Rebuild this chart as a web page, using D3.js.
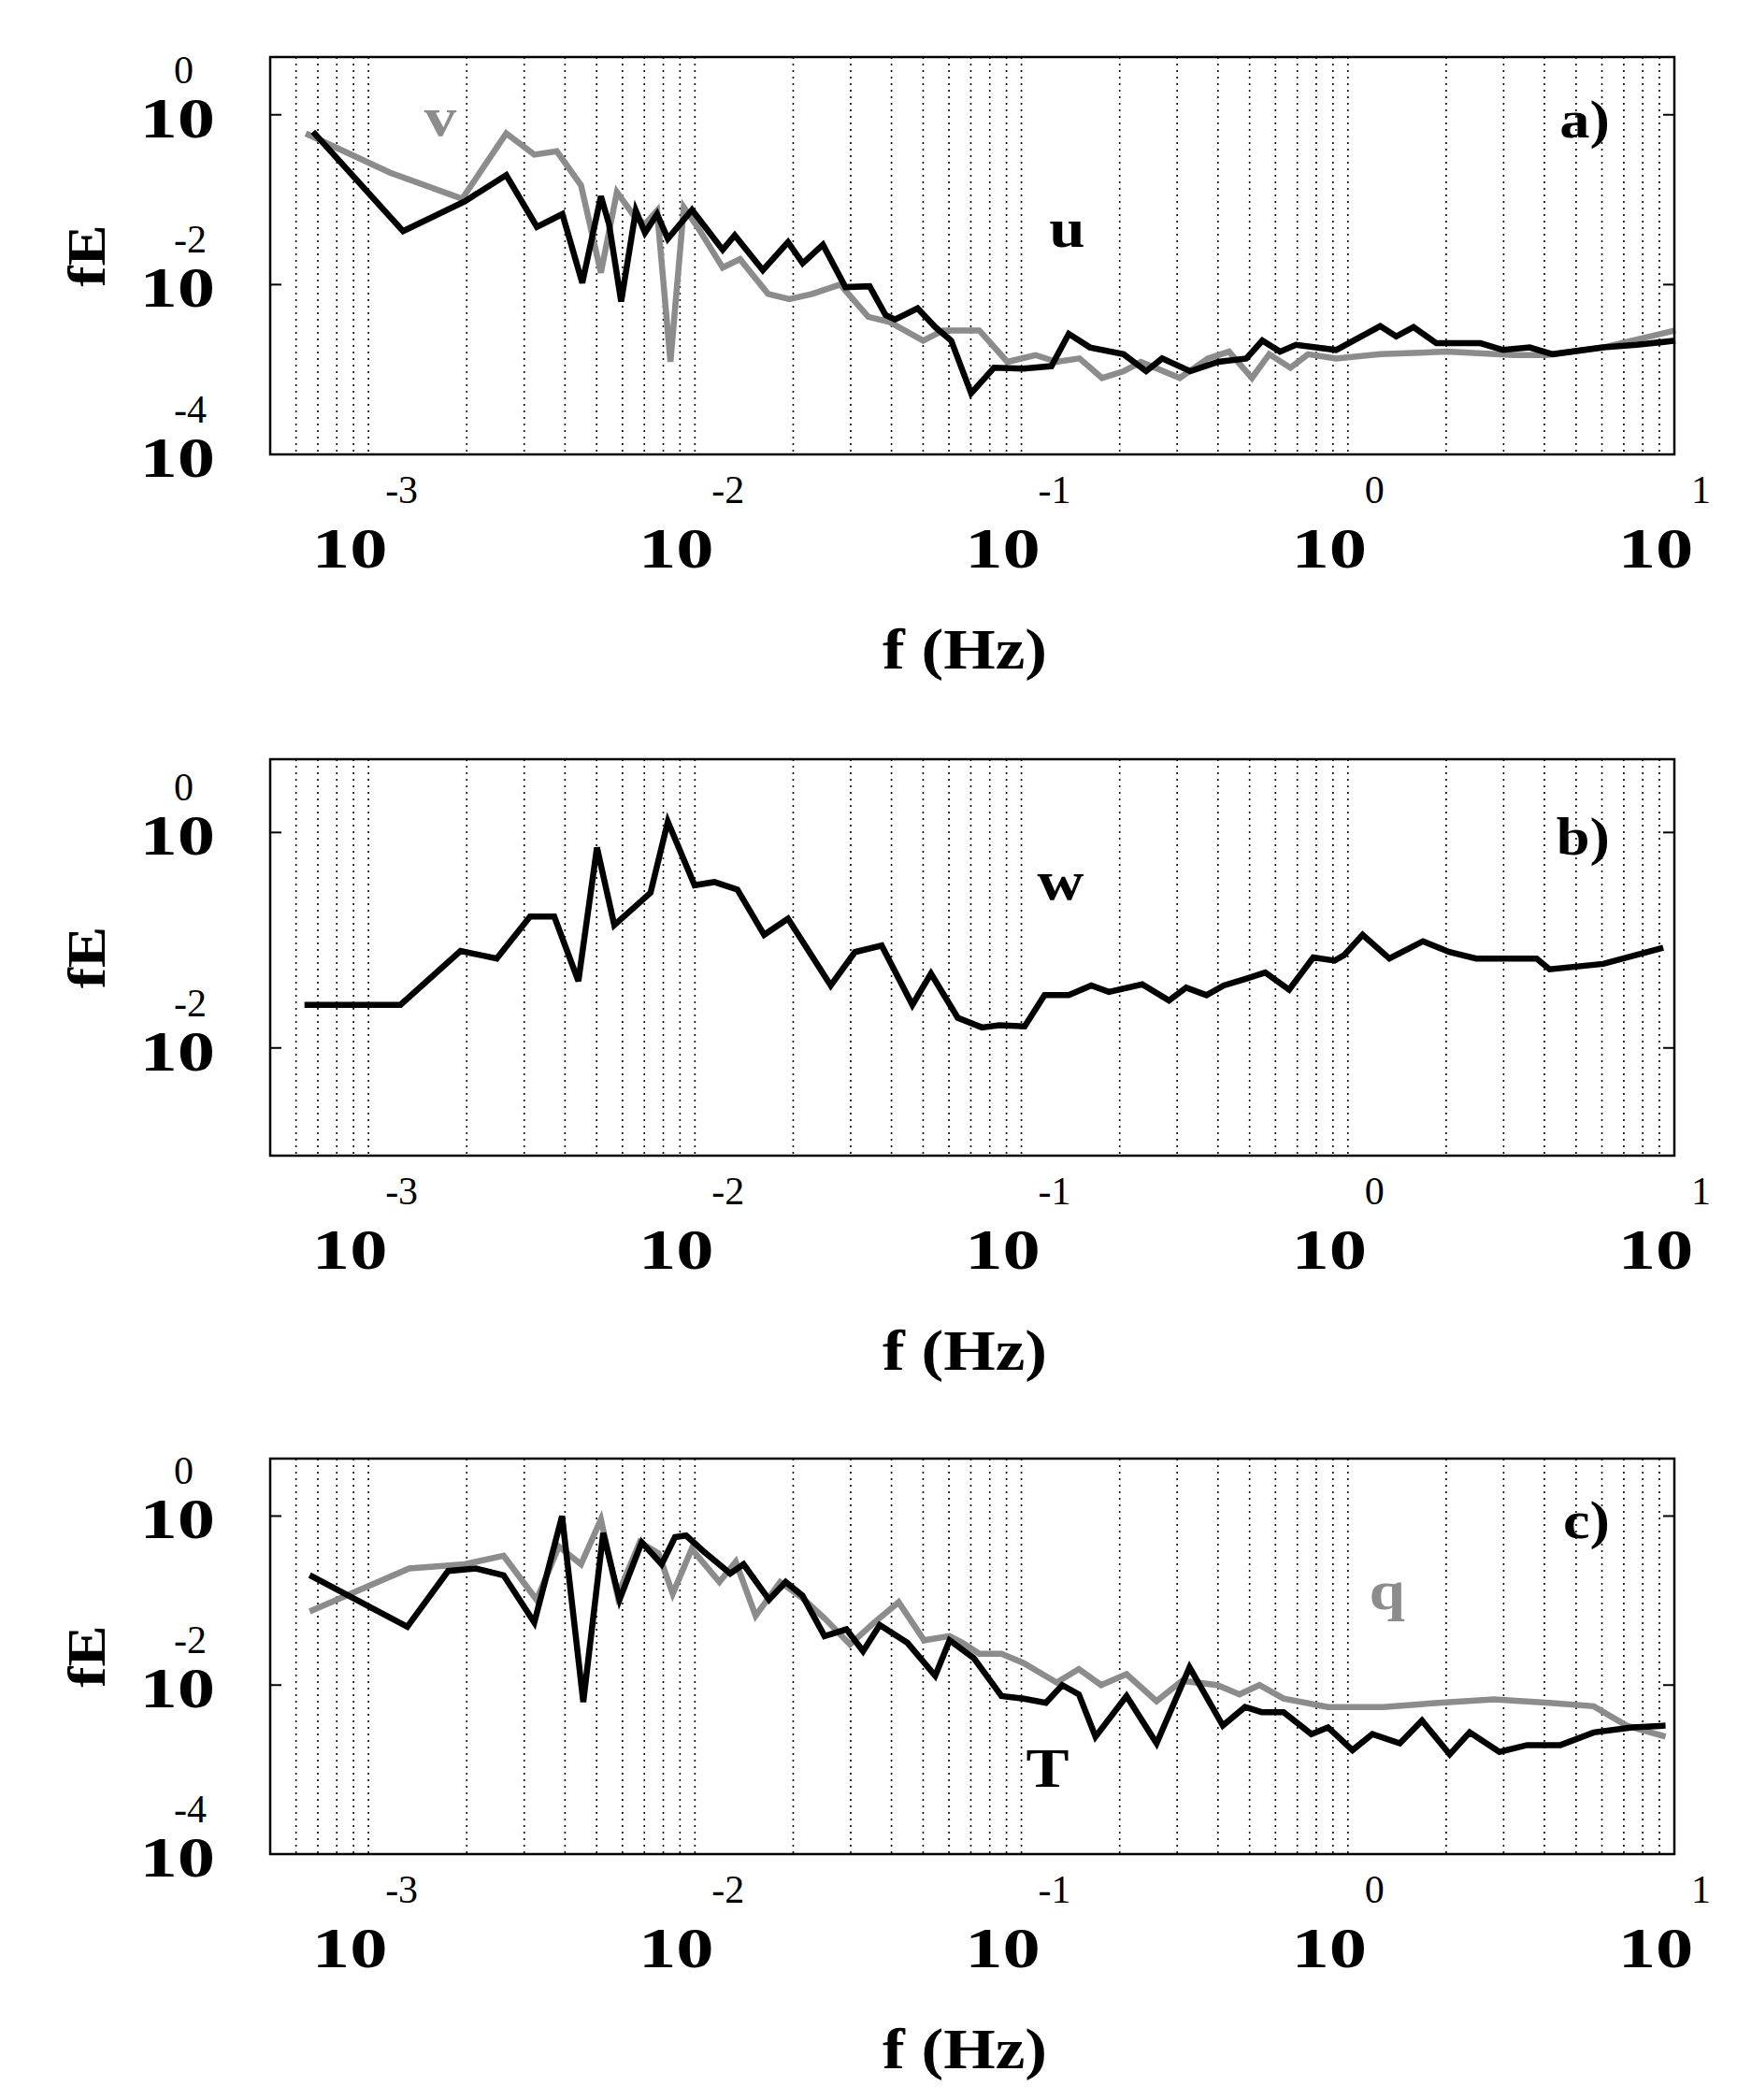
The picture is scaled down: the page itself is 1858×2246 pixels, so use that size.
<!DOCTYPE html>
<html><head><meta charset="utf-8">
<script src="https://cdn.jsdelivr.net/npm/d3@7"></script>
<style>body{margin:0;background:#fff}</style>
</head><body>
<script>
// Data: log10 of frequency (Hz) and log10 of fE
var uLogF = [-3.17,-2.894,-2.705,-2.578,-2.484,-2.406,-2.345,-2.288,-2.263,-2.226,-2.181,-2.153,-2.116,-2.083,-2.009,-1.915,-1.878,-1.792,-1.715,-1.670,-1.608,-1.539,-1.465,-1.416,-1.387,-1.318,-1.264,-1.215,-1.154,-1.084,-0.994,-0.908,-0.855,-0.790,-0.687,-0.618,-0.569,-0.483,-0.397,-0.311,-0.262,-0.208,-0.159,-0.036,0.099,0.148,0.201,0.271,0.406,0.475,0.557,0.627,0.782,0.885,1.003];
var uLogE = [-0.2,-1.37,-1.02,-0.71,-1.32,-1.17,-1.98,-0.96,-1.29,-2.20,-1.13,-1.39,-1.17,-1.46,-1.12,-1.59,-1.42,-1.83,-1.50,-1.75,-1.53,-2.03,-2.02,-2.36,-2.41,-2.28,-2.50,-2.66,-3.28,-2.98,-2.99,-2.96,-2.58,-2.74,-2.82,-3.02,-2.87,-3.02,-2.91,-2.87,-2.66,-2.79,-2.71,-2.77,-2.49,-2.61,-2.50,-2.69,-2.69,-2.77,-2.74,-2.82,-2.74,-2.71,-2.66];
var vLogF = [-3.192,-2.935,-2.713,-2.578,-2.492,-2.423,-2.349,-2.288,-2.239,-2.185,-2.153,-2.116,-2.075,-2.034,-1.989,-1.915,-1.862,-1.776,-1.711,-1.641,-1.555,-1.469,-1.404,-1.301,-1.240,-1.129,-1.043,-0.957,-0.892,-0.822,-0.753,-0.687,-0.634,-0.515,-0.429,-0.364,-0.294,-0.241,-0.176,-0.122,-0.036,0.099,0.303,0.508,0.610,0.782,1.003];
var vLogE = [-0.22,-0.68,-0.99,-0.22,-0.47,-0.43,-0.83,-1.86,-0.91,-1.20,-1.29,-1.13,-2.91,-1.09,-1.34,-1.80,-1.70,-2.11,-2.17,-2.11,-2.00,-2.38,-2.44,-2.66,-2.54,-2.54,-2.91,-2.83,-2.91,-2.87,-3.10,-3.02,-2.91,-3.10,-2.87,-2.79,-3.10,-2.82,-2.98,-2.82,-2.87,-2.82,-2.79,-2.83,-2.83,-2.74,-2.54];
var wLogF = [-3.196,-2.902,-2.718,-2.607,-2.505,-2.431,-2.357,-2.300,-2.247,-2.136,-2.083,-2.001,-1.940,-1.870,-1.788,-1.715,-1.584,-1.510,-1.428,-1.334,-1.277,-1.195,-1.121,-1.068,-0.990,-0.929,-0.855,-0.786,-0.732,-0.630,-0.548,-0.495,-0.433,-0.380,-0.315,-0.253,-0.180,-0.106,-0.041,-0.012,0.045,0.127,0.230,0.311,0.393,0.578,0.618,0.782,0.966];
var wLogE = [-1.60,-1.60,-1.10,-1.17,-0.78,-0.78,-1.38,-0.14,-0.86,-0.56,0.10,-0.49,-0.46,-0.53,-0.95,-0.80,-1.42,-1.11,-1.05,-1.60,-1.31,-1.72,-1.81,-1.79,-1.80,-1.51,-1.51,-1.42,-1.48,-1.41,-1.56,-1.44,-1.51,-1.42,-1.36,-1.30,-1.46,-1.16,-1.19,-1.14,-0.95,-1.17,-1.01,-1.11,-1.17,-1.17,-1.27,-1.22,-1.07];
var tLogF = [-3.180,-2.881,-2.756,-2.671,-2.586,-2.492,-2.407,-2.342,-2.281,-2.231,-2.163,-2.102,-2.061,-2.027,-1.976,-1.892,-1.851,-1.773,-1.722,-1.671,-1.603,-1.536,-1.485,-1.434,-1.349,-1.264,-1.220,-1.146,-1.061,-0.993,-0.925,-0.875,-0.824,-0.773,-0.678,-0.586,-0.485,-0.383,-0.315,-0.264,-0.197,-0.112,-0.061,0.014,0.075,0.159,0.227,0.312,0.373,0.464,0.549,0.651,0.753,0.871,0.973];
var tLogE = [-0.70,-1.31,-0.65,-0.62,-0.70,-1.26,0.00,-2.20,-0.20,-0.99,-0.31,-0.57,-0.25,-0.23,-0.41,-0.68,-0.57,-0.99,-0.78,-0.94,-1.42,-1.34,-1.60,-1.29,-1.50,-1.89,-1.47,-1.68,-2.13,-2.16,-2.21,-2.00,-2.11,-2.61,-2.13,-2.69,-1.79,-2.48,-2.26,-2.32,-2.32,-2.58,-2.50,-2.77,-2.58,-2.69,-2.42,-2.82,-2.56,-2.79,-2.71,-2.71,-2.56,-2.50,-2.48];
var qLogF = [-3.180,-2.875,-2.705,-2.586,-2.485,-2.417,-2.349,-2.288,-2.237,-2.169,-2.112,-2.068,-2.010,-1.925,-1.875,-1.814,-1.739,-1.671,-1.603,-1.525,-1.451,-1.376,-1.298,-1.220,-1.180,-1.129,-1.061,-0.993,-0.892,-0.824,-0.756,-0.678,-0.586,-0.508,-0.400,-0.332,-0.271,-0.197,-0.061,0.108,0.278,0.447,0.617,0.753,0.854,0.973];
var qLogE = [-1.13,-0.62,-0.57,-0.47,-0.99,-0.36,-0.57,-0.04,-0.94,-0.31,-0.44,-0.92,-0.39,-0.78,-0.54,-1.18,-0.78,-0.97,-1.21,-1.52,-1.26,-1.02,-1.47,-1.42,-1.50,-1.63,-1.63,-1.74,-1.97,-1.81,-2.00,-1.87,-2.19,-1.95,-2.00,-2.11,-2.00,-2.16,-2.26,-2.26,-2.21,-2.17,-2.21,-2.25,-2.48,-2.61];

var xTickExp = [-3, -2, -1, 0, 1];

var W = 1858, H = 2246;
var svg = d3.select("body").append("svg").attr("width", W).attr("height", H);
var font = "'Liberation Serif', 'DejaVu Serif', serif";

function toPts(lf, le) {
  return lf.map(function(d, i) { return [Math.pow(10, d), Math.pow(10, le[i])]; });
}

// bold, horizontally stretched text like the original figure
function wideText(g, str, xx, yy, size, anchor, sx) {
  return g.append("text").text(str)
    .attr("transform", "translate(" + xx + "," + yy + ") scale(" + (sx || 1.3) + ",1)")
    .attr("text-anchor", anchor || "middle")
    .attr("font-family", font).attr("font-weight", "bold").attr("font-size", size);
}

var panels = [
  {top: 61, bottom: 486, ymin: 1e-4, yExp: [0, -2, -4], label: "a)",
   series: [{pts: toPts(uLogF, uLogE), color: "#000"}, {pts: toPts(vLogF, vLogE), color: "#8c8c8c"}],
   notes: [{t: "v", f: 10 ** -2.78, e: 10 ** -0.25, c: "#8c8c8c"}, {t: "u", f: 10 ** -0.86, e: 10 ** -1.55, c: "#000"}]},
  {top: 812, bottom: 1236, ymin: 1e-3, yExp: [0, -2], label: "b)",
   series: [{pts: toPts(wLogF, wLogE), color: "#000"}],
   notes: [{t: "w", f: 10 ** -0.88, e: 10 ** -0.62, c: "#000"}]},
  {top: 1560, bottom: 1983, ymin: 1e-4, yExp: [0, -2, -4], label: "c)",
   series: [{pts: toPts(tLogF, tLogE), color: "#000"}, {pts: toPts(qLogF, qLogE), color: "#8c8c8c"}],
   notes: [{t: "q", f: 10 ** 0.12, e: 10 ** -1.1, c: "#8c8c8c"}, {t: "T", f: 10 ** -0.92, e: 10 ** -3.2, c: "#000"}]}
];

var left = 289, right = 1791;
var x = d3.scaleLog().domain([5e-4, 10]).range([left, right]);

panels.forEach(function(p) {
  var y = d3.scaleLog().domain([p.ymin, Math.pow(10, 0.68)]).range([p.bottom, p.top]);
  var g = svg.append("g");

  // dotted vertical grid at every decade subdivision
  var gridVals = [];
  for (var e = -4; e <= 0; e++) for (var k = 1; k <= 9; k++) {
    var v = k * Math.pow(10, e);
    if (v > 5e-4 && v < 10) gridVals.push(v);
  }
  g.selectAll(".grid").data(gridVals).enter().append("line")
    .attr("x1", function(d) { return x(d); }).attr("x2", function(d) { return x(d); })
    .attr("y1", p.top).attr("y2", p.bottom)
    .attr("stroke", "#000").attr("stroke-width", 1.6).attr("stroke-dasharray", "2,5");

  // y ticks inside both sides
  p.yExp.forEach(function(ex) {
    var yy = y(Math.pow(10, ex));
    g.append("line").attr("x1", left).attr("x2", left + 12).attr("y1", yy).attr("y2", yy).attr("stroke", "#000").attr("stroke-width", 2);
    g.append("line").attr("x1", right - 12).attr("x2", right).attr("y1", yy).attr("y2", yy).attr("stroke", "#000").attr("stroke-width", 2);
    wideText(g, "10", 230, yy + 24, 62, "end");
    g.append("text").text(ex).attr("x", 186).attr("y", yy - 34)
      .attr("font-family", font).attr("font-size", 42);
  });

  // x tick labels
  xTickExp.forEach(function(ex) {
    var xx = x(Math.pow(10, ex));
    wideText(g, "10", xx - 20, p.bottom + 121, 62, "middle");
    g.append("text").text(ex).attr("x", xx + 18).attr("y", p.bottom + 52)
      .attr("font-family", font).attr("font-size", 42);
  });

  var line = d3.line().x(function(d) { return x(d[0]); }).y(function(d) { return y(d[1]); });
  p.series.slice().reverse().forEach(function(s) {
    g.append("path").datum(s.pts).attr("d", line).attr("fill", "none")
      .attr("stroke", s.color).attr("stroke-width", 6.5).attr("stroke-linejoin", "miter");
  });

  // frame
  g.append("rect").attr("x", left).attr("y", p.top).attr("width", right - left).attr("height", p.bottom - p.top)
    .attr("fill", "none").attr("stroke", "#000").attr("stroke-width", 2.5);

  wideText(g, p.label, 1722, y(1) + 24, 56, "end", 1.15);
  p.notes.forEach(function(n) {
    wideText(g, n.t, x(n.f), y(n.e), 60, "middle", 1.15).attr("fill", n.c);
  });

  wideText(g, "f (Hz)", 1032, p.bottom + 229, 62, "middle", 1.15);
  var cy = (p.top + p.bottom) / 2;
  g.append("text").text("fE").attr("transform", "translate(112," + cy + ") rotate(-90) scale(1.15,1)").attr("text-anchor", "middle")
    .attr("font-family", font).attr("font-weight", "bold").attr("font-size", 58);
});
</script>
</body></html>
